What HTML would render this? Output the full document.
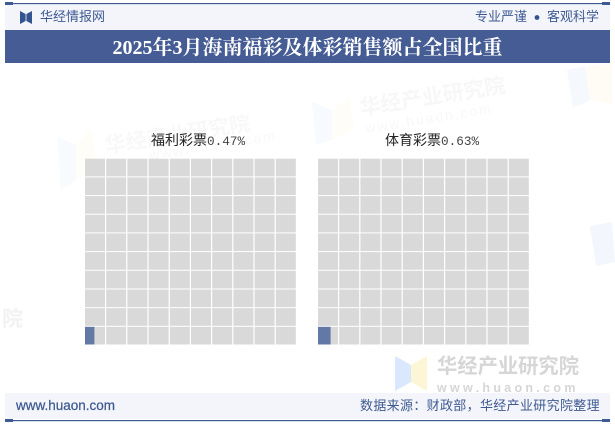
<!DOCTYPE html>
<html lang="zh">
<head>
<meta charset="utf-8">
<title>2025年3月海南福彩及体彩销售额占全国比重</title>
<style>
html,body{margin:0;padding:0;background:#fff;}
#page{position:relative;width:615px;height:427px;overflow:hidden;background:#fff;font-family:"Liberation Sans","Noto Serif CJK SC",sans-serif;}
.abs{position:absolute;white-space:nowrap;}
.cjk{font-family:"Liberation Sans","WenQuanYi Zen Hei","Noto Sans CJK SC",sans-serif;color:#3f5a92;font-size:13px;line-height:16px;}
.ct{font-family:"Liberation Mono","WenQuanYi Zen Hei","Noto Sans CJK SC",monospace;color:#222;font-size:14px;line-height:18px;}
.ct span{font-size:12.7px;color:#444;}
svg{position:absolute;left:0;top:0;}
</style>
</head>
<body>
<div id="page">
<svg id="bg" width="615" height="427" font-family="'Liberation Sans','Noto Sans CJK SC',sans-serif">
  <g>
    <g opacity="0.13">
      <polygon points="57,137 76,145 76,180 61,190" fill="#cfe2fb"/>
      <polygon points="76,145 92,128 96,165 76,180" fill="#fdf4cf"/>
      <text x="106" y="153" font-size="21" font-weight="700" fill="#cccccc" transform="rotate(-9 106 153)">华经产业研究院</text>
      <text x="150" y="160" font-size="14" fill="#cccccc" letter-spacing="2" transform="rotate(-9 150 160)">www.huaon.com</text>
    </g>
    <g opacity="0.15">
      <polygon points="312,102 332,110 332,140 316,145" fill="#cfe2fb"/>
      <polygon points="332,110 350,97 354,130 332,140" fill="#fdf4cf"/>
      <text x="361" y="115" font-size="21" font-weight="700" fill="#cccccc" transform="rotate(-9 361 115)">华经产业研究院</text>
      <text x="366" y="133" font-size="14" fill="#cccccc" letter-spacing="2" transform="rotate(-9 366 133)">www.huaon.com</text>
    </g>
    <g opacity="0.2">
      <polygon points="567,70 585,66 590,100 573,108" fill="#cfe2fb"/>
      <polygon points="585,66 612,64 612,104 590,100" fill="#fdf4cf"/>
    </g>
    <polygon points="590,226 612,222 615,262 596,266" fill="#f3f7fd"/>
    <text x="2" y="326" font-size="21" font-weight="700" fill="#f2f2f2">院</text>
    <g>
      <polygon points="395,356 411,365 411,382 395,391" fill="#d9e8fc"/>
      <polygon points="411,365 427,356 427,391 411,382" fill="#fdf6d6"/>
      <text x="437" y="373" font-size="20.3" font-weight="700" fill="#d6d6d6">华经产业研究院</text>
      <text x="437" y="392" font-size="12.5" font-weight="700" fill="#d6d6d6" letter-spacing="3.3">www.huaon.com</text>
    </g>
  </g>
  <rect x="5" y="5" width="605" height="25" fill="#f3f5fa"/>
  <rect x="5" y="3" width="605" height="1.2" fill="#3d5a94"/>
  <rect x="5" y="2" width="8" height="3" fill="#3d5a94"/>
  <rect x="602" y="2" width="8" height="3" fill="#3d5a94"/>
  <rect x="5" y="30" width="605" height="33" fill="#455d94"/>
  <g fill="#34538f">
    <polygon points="20,11 25.6,14 25.6,21 20,24"/>
    <polygon points="26.4,14 32,11 32,24 26.4,21"/>
  </g>
  <circle cx="537" cy="17.5" r="2.4" fill="#34538f"/>
  <rect x="5" y="393" width="605" height="26" fill="#f3f5fa"/>
  <rect x="5" y="420" width="605" height="1.2" fill="#3d5a94"/>
  <rect x="5" y="419" width="8" height="3" fill="#3d5a94"/>
  <rect x="602" y="419" width="8" height="3" fill="#3d5a94"/>
</svg>
<svg id="chart" width="615" height="427"></svg>

<div class="abs cjk" style="left:40px;top:9px;">华经情报网</div>
<div class="abs cjk" style="left:475px;top:9px;">专业严谨</div>
<div class="abs cjk" style="left:547px;top:9px;">客观科学</div>
<div class="abs" style="left:0;width:615px;top:36px;text-align:center;color:#fff;font:700 20px/24px 'Liberation Serif','Noto Serif CJK SC',serif;">2025年3月海南福彩及体彩销售额占全国比重</div>
<div class="abs ct" style="left:151px;top:133px;">福利彩票<span>0.47%</span></div>
<div class="abs ct" style="left:385px;top:133px;">体育彩票<span>0.63%</span></div>
<div class="abs" style="left:16px;top:398px;color:#3f5a92;font:400 13.5px/16px 'Liberation Sans',sans-serif;-webkit-text-stroke:.25px #3f5a92;">www.huaon.com</div>
<div class="abs cjk" style="left:360px;top:398px;letter-spacing:.33px;">数据来源：财政部，华经产业研究院整理</div>
</div>
<script>
var categories = ['福利彩票', '体育彩票'];
var shareValues = [0.47, 0.63];
var gridColumns = 10;
var gridRows = 10;

var NS = 'http://www.w3.org/2000/svg';
var chart = document.getElementById('chart');
var panelLeft = [85, 318];
var panelTop = 158.7;
var pitchX = 21.2;
var pitchY = 18.68;
var gapX = 1.2;
var gapY = 1;

function cellX(panel, col) { return panelLeft[panel] + col * pitchX; }
function cellY(row) { return panelTop + (gridRows - 1 - row) * pitchY; }
function fillWidth(fraction) { return fraction * (pitchX - gapX); }

function rect(x, y, w, h, color) {
  var r = document.createElementNS(NS, 'rect');
  r.setAttribute('x', x);
  r.setAttribute('y', y);
  r.setAttribute('width', w);
  r.setAttribute('height', h);
  r.setAttribute('fill', color);
  return r;
}

categories.forEach(function (name, p) {
  var remaining = shareValues[p];
  for (var row = 0; row < gridRows; row++) {
    for (var col = 0; col < gridColumns; col++) {
      var cell = rect(cellX(p, col), cellY(row), pitchX - gapX, pitchY - gapY, '#d9d9d9');
      
      
      chart.appendChild(cell);
      var portion = Math.min(1, Math.max(0, remaining));
      if (portion > 0) {
        var fill = rect(cellX(p, col), cellY(row), fillWidth(portion), pitchY - gapY, '#6379a5');
        
        
        chart.appendChild(fill);
      }
      remaining -= 1;
    }
  }
});
</script>
</body>
</html>
